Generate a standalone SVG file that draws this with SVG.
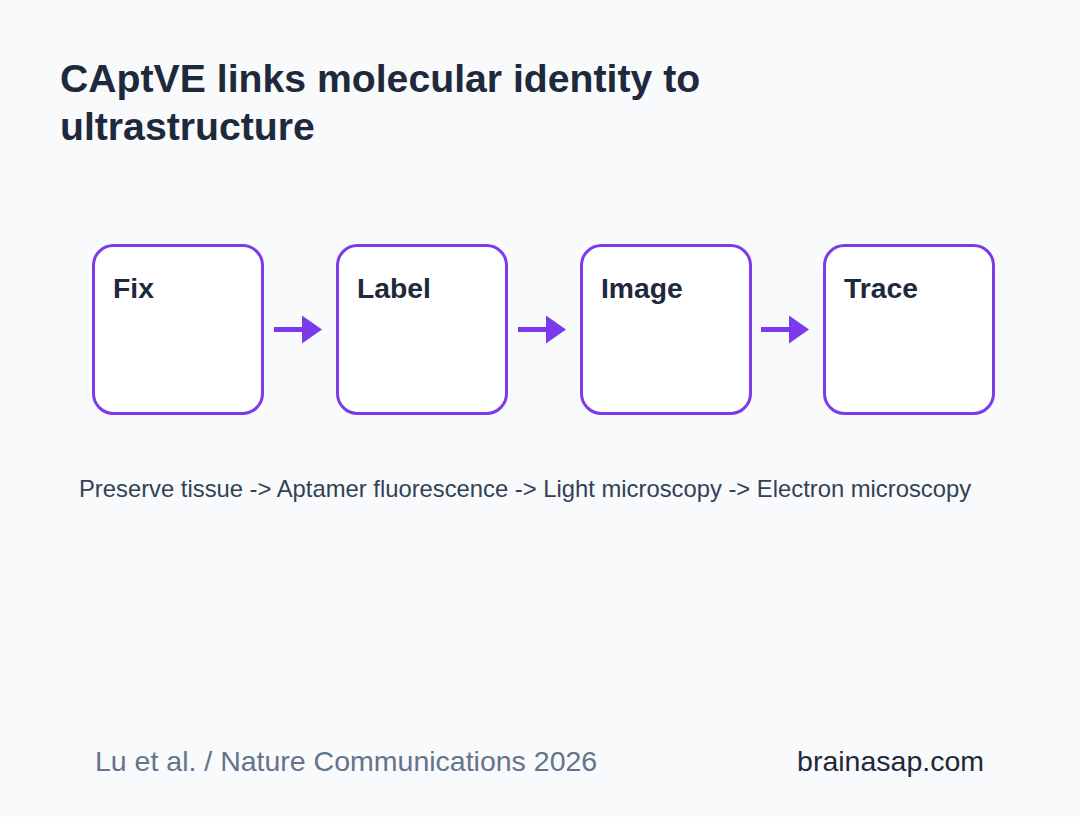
<svg xmlns="http://www.w3.org/2000/svg" width="1080" height="817" viewBox="0 0 1080 817">
<defs>
<style>
.t{font-family:"Liberation Sans",Arial,sans-serif;font-weight:bold;font-size:39.2px;fill:#1e293b}
.box{fill:#ffffff;stroke:#7c3aed;stroke-width:3}
.lbl{font-family:"Liberation Sans",Arial,sans-serif;font-weight:bold;font-size:28.3px;fill:#1e293b}
.cap{font-family:"Liberation Sans",Arial,sans-serif;font-size:23.8px;fill:#334155}
.ft{font-family:"Liberation Sans",Arial,sans-serif;font-size:28.5px}
.ln{stroke:#7c3aed;stroke-width:5;fill:none}
.ah{fill:#7c3aed}
</style>
</defs>
<rect width="1080" height="817" fill="#f8fafc"/>
<text class="t" x="60" y="92">CAptVE links molecular identity to</text>
<text class="t" x="60" y="140">ultrastructure</text>
<g id="node-fix"><rect class="box" x="93.5" y="245.5" width="169" height="168" rx="20"/><text class="lbl" x="113" y="298">Fix</text></g>
<g id="node-label"><rect class="box" x="337.5" y="245.5" width="169" height="168" rx="20"/><text class="lbl" x="357" y="298">Label</text></g>
<g id="node-image"><rect class="box" x="581.5" y="245.5" width="169" height="168" rx="20"/><text class="lbl" x="601" y="298">Image</text></g>
<g id="node-trace"><rect class="box" x="824.5" y="245.5" width="169" height="168" rx="20"/><text class="lbl" x="844" y="298">Trace</text></g>
<g id="connectors">
<line class="ln" x1="274" y1="329.5" x2="305" y2="329.5"/><polygon class="ah" points="302,315.5 322,329.5 302,343.5"/>
<line class="ln" x1="518" y1="329.5" x2="549" y2="329.5"/><polygon class="ah" points="546,315.5 566,329.5 546,343.5"/>
<line class="ln" x1="761" y1="329.5" x2="792" y2="329.5"/><polygon class="ah" points="789,315.5 809,329.5 789,343.5"/>
</g>
<text class="cap" x="79" y="497">Preserve tissue -&gt; Aptamer fluorescence -&gt; Light microscopy -&gt; Electron microscopy</text>
<text class="ft" x="95" y="771" fill="#64748b">Lu et al. / Nature Communications 2026</text>
<text class="ft" x="984" y="771" fill="#1e293b" text-anchor="end">brainasap.com</text>
</svg>
